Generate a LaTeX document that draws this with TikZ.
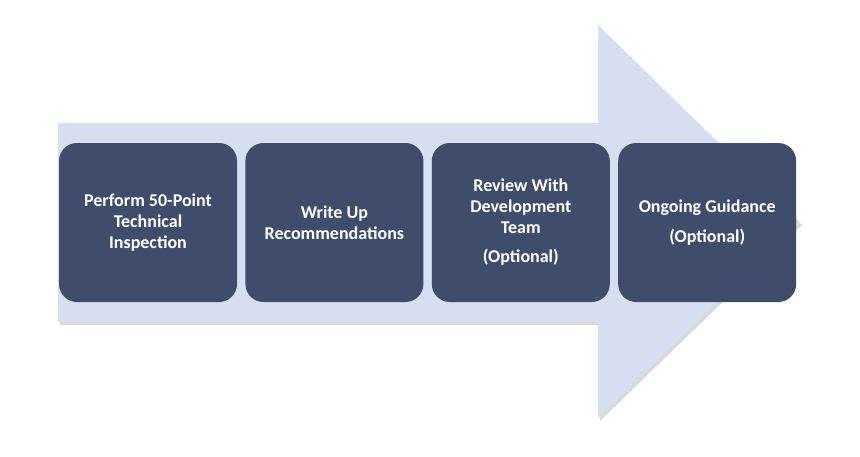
\documentclass[tikz,border=0pt]{standalone}
\usepackage{fontspec}
\setmainfont{Carlito}
\usetikzlibrary{positioning}
\definecolor{arrowfill}{HTML}{D6DFF0}
\definecolor{stepfill}{HTML}{3F4D6B}

\begin{document}
\begin{tikzpicture}[
    x=1pt, y=-1pt,
    font=\fontsize{18}{21}\selectfont\bfseries,
    node distance=8pt,
    stepbox/.style={fill=stepfill, text=white, rounded corners=18pt, align=center, minimum width=178pt, minimum height=159pt, inner sep=2pt},
    bigarrow/.style={fill=arrowfill},
    arrowshadow/.style={fill=gray, opacity=0.3}
]
\useasboundingbox (0,0) rectangle (860,456);

% Big arrow behind the steps (shadow first)
\fill[arrowshadow, shift={(2,3)}] (58,123) -- (598,123) -- (598,25) -- (800,222) -- (598,418) -- (598,322) -- (58,322) -- cycle;
\fill[bigarrow] (58,123) -- (598,123) -- (598,25) -- (800,222) -- (598,418) -- (598,322) -- (58,322) -- cycle;

% Steps
\node[stepbox] (inspect) at (148,222.5) {Perform 50-Point\\Technical\\Inspection};
\node[stepbox, right=of inspect] (write) {Write Up\\Recommendations};
\node[stepbox, right=of write] (review) {Review With\\Development\\Team\\[8pt](Optional)};
\node[stepbox, right=of review] (guide) {Ongoing Guidance\\[9pt](Optional)};

\end{tikzpicture}
\end{document}
